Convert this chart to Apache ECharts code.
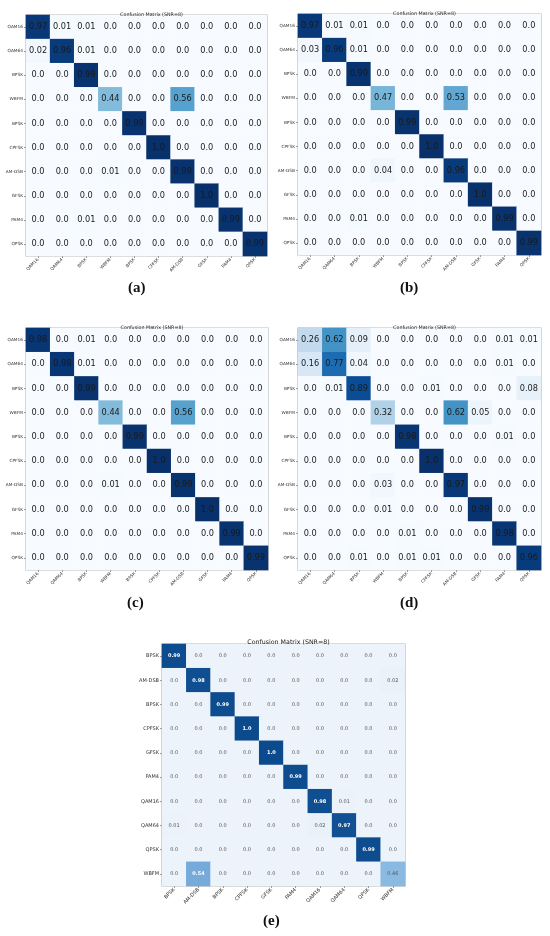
<!DOCTYPE html>
<html><head><meta charset="utf-8">
<script src="https://cdn.jsdelivr.net/npm/echarts@6/dist/echarts.min.js"></script>
<style>html,body{margin:0;padding:0;background:#fff}#c{width:550px;height:936px}</style>
</head><body><div id="c"></div>
<script>
// ---------- DATA ----------
const labelsAD = ['QAM16','QAM64','BPSK','WBFM','BPSK','CPFSK','AM-DSB','GFSK','PAM4','QPSK'];
const labelsE  = ['BPSK','AM-DSB','BPSK','CPFSK','GFSK','PAM4','QAM16','QAM64','QPSK','WBFM'];
const titleText = 'Confusion Matrix (SNR=8)';
const captions = ['(a)','(b)','(c)','(d)','(e)'];

const matrixA = [
  [0.97,0.01,0.01,0,0,0,0,0,0,0],
  [0.02,0.96,0.01,0,0,0,0,0,0,0],
  [0,0,0.99,0,0,0,0,0,0,0],
  [0,0,0,0.44,0,0,0.56,0,0,0],
  [0,0,0,0,0.99,0,0,0,0,0],
  [0,0,0,0,0,1.0,0,0,0,0],
  [0,0,0,0.01,0,0,0.99,0,0,0],
  [0,0,0,0,0,0,0,1.0,0,0],
  [0,0,0.01,0,0,0,0,0,0.99,0],
  [0,0,0,0,0,0,0,0,0,0.99]
];
const matrixB = [
  [0.97,0.01,0.01,0,0,0,0,0,0,0],
  [0.03,0.96,0.01,0,0,0,0,0,0,0],
  [0,0,0.99,0,0,0,0,0,0,0],
  [0,0,0,0.47,0,0,0.53,0,0,0],
  [0,0,0,0,0.99,0,0,0,0,0],
  [0,0,0,0,0,1.0,0,0,0,0],
  [0,0,0,0.04,0,0,0.96,0,0,0],
  [0,0,0,0,0,0,0,1.0,0,0],
  [0,0,0.01,0,0,0,0,0,0.99,0],
  [0,0,0,0,0,0,0,0,0,0.99]
];
const matrixC = [
  [0.98,0,0.01,0,0,0,0,0,0,0],
  [0,0.98,0.01,0,0,0,0,0,0,0],
  [0,0,0.99,0,0,0,0,0,0,0],
  [0,0,0,0.44,0,0,0.56,0,0,0],
  [0,0,0,0,0.99,0,0,0,0,0],
  [0,0,0,0,0,1.0,0,0,0,0],
  [0,0,0,0.01,0,0,0.99,0,0,0],
  [0,0,0,0,0,0,0,1.0,0,0],
  [0,0,0,0,0,0,0,0,0.99,0],
  [0,0,0,0,0,0,0,0,0,0.99]
];
const matrixD = [
  [0.26,0.62,0.09,0,0,0,0,0,0.01,0.01],
  [0.16,0.77,0.04,0,0,0,0,0,0.01,0],
  [0,0.01,0.89,0,0,0.01,0,0,0,0.08],
  [0,0,0,0.32,0,0,0.62,0.05,0,0],
  [0,0,0,0,0.98,0,0,0,0.01,0],
  [0,0,0,0,0,1.0,0,0,0,0],
  [0,0,0,0.03,0,0,0.97,0,0,0],
  [0,0,0,0.01,0,0,0,0.99,0,0],
  [0,0,0,0,0.01,0,0,0,0.98,0],
  [0,0,0.01,0,0.01,0.01,0,0,0,0.96]
];
const matrixE = [
  [0.99,0,0,0,0,0,0,0,0,0],
  [0,0.98,0,0,0,0,0,0,0,0.02],
  [0,0,0.99,0,0,0,0,0,0,0],
  [0,0,0,1.0,0,0,0,0,0,0],
  [0,0,0,0,1.0,0,0,0,0,0],
  [0,0,0,0,0,0.99,0,0,0,0],
  [0,0,0,0,0,0,0.98,0.01,0,0],
  [0.01,0,0,0,0,0,0.02,0.97,0,0],
  [0,0,0,0,0,0,0,0,0.99,0],
  [0,0.54,0,0,0,0,0,0,0,0.46]
];

// ---------- STYLE / LAYOUT ----------
const blues = ['#f7fbff','#deebf7','#c6dbef','#9ecae1','#6baed6','#4292c6','#2171b5','#08519c','#08306b'];
const bluesE = ['#edf3fa','#c0d9f0','#80b3df','#3b7dbf','#0b4a8c'];

const panels = [
  {m: matrixA, labels: labelsAD, g:{left:26, top:15, width:241, height:241}, cap:[138,290], big:false},
  {m: matrixB, labels: labelsAD, g:{left:298, top:14, width:243, height:241}, cap:[410,290], big:false},
  {m: matrixC, labels: labelsAD, g:{left:26, top:328, width:242, height:242}, cap:[137,605], big:false},
  {m: matrixD, labels: labelsAD, g:{left:298, top:328, width:243, height:242}, cap:[410,605], big:false},
  {m: matrixE, labels: labelsE,  g:{left:162, top:644, width:243, height:242}, cap:[273,923], big:true}
];

function fmt(v){ return (Math.abs(v*10 - Math.round(v*10)) < 1e-9) ? v.toFixed(1) : v.toFixed(2); }

const grid=[], xAxis=[], yAxis=[], series=[], visualMap=[], title=[], graphic=[];
panels.forEach((p,i)=>{
  grid.push(Object.assign({show:true, borderColor:'#a8a8a8', borderWidth:1.2, backgroundColor:'transparent'}, p.g));
  const lblSize = p.big ? 5.0 : 4.3;
  xAxis.push({type:'category', gridIndex:i, data:p.labels, position:'bottom',
    axisLine:{show:false}, splitLine:{show:false},
    axisTick:{show:true, alignWithLabel:true, length:2, lineStyle:{color:'#555', width:0.6}},
    axisLabel:{rotate:45, fontSize:lblSize, color:'#333', margin:3, interval:0, fontFamily:'DejaVu Sans'}});
  yAxis.push({type:'category', gridIndex:i, data:p.labels, inverse:true,
    axisLine:{show:false}, splitLine:{show:false},
    axisTick:{show:true, alignWithLabel:true, length:2, lineStyle:{color:'#555', width:0.6}},
    axisLabel:{fontSize:lblSize, color:'#333', margin:3, interval:0, fontFamily:'DejaVu Sans'}});
  const data=[];
  p.m.forEach((row,r)=>row.forEach((v,c)=>data.push([c,r,v])));
  series.push({type:'heatmap', xAxisIndex:i, yAxisIndex:i, data:data,
    progressive:0, animation:false,
    label:{show:true, fontFamily:'DejaVu Sans',
      formatter: p.big ? (d=>{const v=d.value[2]; return (v>0.5?'{w|':'{g|')+fmt(v)+'}';}) : (d=>fmt(d.value[2])),
      fontSize: p.big ? 5 : 8.2, color:'#1a1a1a',
      rich: p.big ? {w:{color:'#ffffff', fontSize:5, fontWeight:'bold', fontFamily:'DejaVu Sans'},
                     g:{color:'#555555', fontSize:5, fontFamily:'DejaVu Sans'}} : undefined},
    emphasis:{disabled:true}});
  visualMap.push({type:'continuous', seriesIndex:i, min:0, max:1, show:false, dimension:2,
    inRange:{color: p.big ? bluesE : blues}});
  title.push({text:titleText, left:p.g.left + p.g.width/2, textAlign:'center',
    top: p.g.top - (p.big ? 10 : 7.5),
    textStyle:{fontSize: p.big ? 6.3 : 4.8, fontWeight:'normal', color:'#222', fontFamily:'DejaVu Sans'}});
  graphic.push({type:'text', left:p.cap[0]-10, top:p.cap[1]-9,
    style:{text:captions[i], font:'bold 15px "Liberation Serif", serif', fill:'#111'}});
});

const chart = echarts.init(document.getElementById('c'), null, {renderer:'canvas'});
chart.setOption({animation:false, backgroundColor:'#fff', title, grid, xAxis, yAxis, series, visualMap, graphic});
</script></body></html>
